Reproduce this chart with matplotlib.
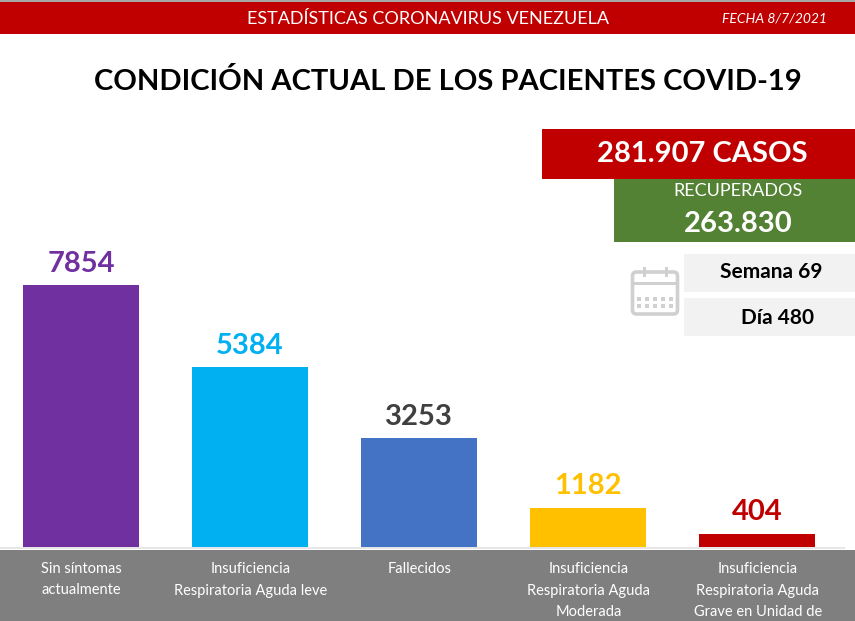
import matplotlib
matplotlib.use("Agg")
import matplotlib.pyplot as plt
from matplotlib.patches import Rectangle, FancyBboxPatch

plt.rcParams['font.family'] = ['Lato', 'DejaVu Sans']

# values
categories = ["Sin síntomas\nactualmente",
              "Insuficiencia\nRespiratoria Aguda leve",
              "Fallecidos",
              "Insuficiencia\nRespiratoria Aguda\nModerada",
              "Insuficiencia\nRespiratoria Aguda\nGrave en Unidad de"]
values = [7854, 5384, 3253, 1182, 404]
bar_colors = ["#7030A0", "#00B0F0", "#4472C4", "#FFC000", "#C00000"]
label_colors = ["#7030A0", "#00B0F0", "#404040", "#FFC000", "#C00000"]

title = "CONDICIÓN ACTUAL DE LOS PACIENTES COVID-19"
header = "ESTADÍSTICAS CORONAVIRUS VENEZUELA"
fecha = "FECHA 8/7/2021"
casos = "281.907 CASOS"
recup_label = "RECUPERADOS"
recup_value = "263.830"
semana = "Semana 69"
dia = "Día 480"

W, H = 855, 621
fig = plt.figure(figsize=(W / 100, H / 100), dpi=100)

# page layer in pixel coordinates
page = fig.add_axes([0, 0, 1, 1])
page.set_xlim(0, W)
page.set_ylim(H, 0)
page.axis("off")


def box(x0, y0, x1, y1, color):
    page.add_patch(Rectangle((x0, y0), x1 - x0, y1 - y0, fc=color, ec="none"))


# header
box(0, 0, W, 2, "#A6A6A6")
box(0, 2, W, 34, "#C00000")
page.text(428, 18.5, header, color="white", fontsize=13, ha="center", va="center")
page.text(774, 18.5, fecha, color="white", fontsize=10, style="italic", ha="center", va="center")
page.text(448, 82, title, color="black", fontsize=21, fontweight="bold", ha="center", va="center")

# counters
box(542, 129, W, 179, "#C00000")
page.text(702, 154.5, casos, color="white", fontsize=21, fontweight="bold", ha="center", va="center")
box(614, 179, W, 242, "#548235")
page.text(738, 191.5, recup_label, color="white", fontsize=13, ha="center", va="center")
page.text(738, 224, recup_value, color="white", fontsize=21, fontweight="bold", ha="center", va="center")
box(684, 254, W, 292, "#F2F2F2")
box(684, 298, W, 336, "#F2F2F2")
page.text(771, 272, semana, color="black", fontsize=15, fontweight="bold", ha="center", va="center")
page.text(777, 318, dia, color="black", fontsize=15, fontweight="bold", ha="center", va="center")

# calendar icon
icon = "#D0D0D0"
page.add_patch(FancyBboxPatch((632.5, 272), 45, 42, boxstyle="round,pad=0,rounding_size=4",
                              fc="none", ec=icon, lw=2.6))
box(632, 282, 678, 285, icon)
box(643, 267, 646, 277, icon)
box(665, 267, 668, 277, icon)
for row_y in (297, 304):
    for col_x in (637, 645, 653, 661, 669):
        box(col_x, row_y, col_x + 4, row_y + 4, icon)

# footer band with the category names
box(0, 550, W, H, "#7F7F7F")
box(0, 547, W - 10, 549, "#E7E6E6")

# bars: y = 0 sits at pixel 547, 7854 at pixel 285
ax = fig.add_axes([0, (H - 547) / H, 1, 547 / H])
ax.patch.set_alpha(0)
ax.axis("off")
ax.set_xlim(-81 / 169, (W - 81) / 169)
ax.set_ylim(0, 7854 * 547 / 262)
positions = list(range(len(values)))
ax.bar(positions, values, width=0.686, color=bar_colors)
for pos, val, col in zip(positions, values, label_colors):
    ax.annotate(str(val), (pos, val), xytext=(0, 6), textcoords="offset points",
                color=col, fontsize=21, fontweight="bold", ha="center", va="bottom")

for pos, name in zip(positions, categories):
    for i, line in enumerate(name.split("\n")):
        page.text(81 + pos * 169.2, 569 + i * 21.5, line, color="white", fontsize=10.5,
                  ha="center", va="center")

fig.savefig("out.png", dpi=100)
